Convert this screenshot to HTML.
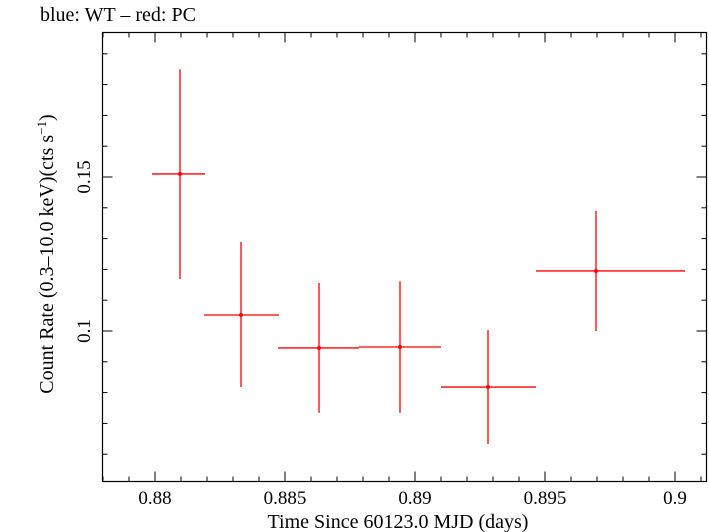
<!DOCTYPE html>
<html><head><meta charset="utf-8"><style>
body{margin:0;background:#fff}
svg{display:block;font-family:"Liberation Serif",serif}
</style></head><body>
<svg id="c" width="709" height="532">
<text x="40" y="21" font-size="20">blue: WT – red: PC</text>
<rect x="102.5" y="32.5" width="604" height="449" fill="none" stroke="#000" stroke-width="1.2"/>
<g id="ticks"></g>
<g id="marks"></g>
<text x="398" y="528" font-size="20" text-anchor="middle">Time Since 60123.0 MJD (days)</text>
<text transform="translate(53,254) rotate(-90)" font-size="20" text-anchor="middle">Count Rate (0.3–10.0 keV)(cts s<tspan dy="-7" font-size="13">−1</tspan><tspan dy="7">)</tspan></text>
</svg>
<script>
const xCenters=[0.880962,0.883308,0.886308,0.889423,0.892808,0.896962];
const xLow=[0.879885,0.881885,0.884731,0.887846,0.891000,0.894654];
const xHigh=[0.881923,0.884769,0.887846,0.891000,0.894654,0.900385];
const rates=[0.1510,0.1052,0.0945,0.0948,0.0818,0.1195];
const rateHigh=[0.1850,0.1289,0.1156,0.1162,0.1003,0.1390];
const rateLow=[0.1169,0.0818,0.0734,0.0734,0.0633,0.1000];
const xTicks=[0.88,0.885,0.89,0.895,0.9];
const xTickLabels=["0.88","0.885","0.89","0.895","0.9"];
const yTicks=[0.1,0.15];
const yTickLabels=["0.1","0.15"];
const NS="http://www.w3.org/2000/svg";
const L=102.5,R=706.5,T=32.5,B=481.5;
function xs(v){return 155+(v-0.88)*26000;}
function ys(v){return 331-(v-0.1)*3080;}
function mk(tag,attrs,parent){const e=document.createElementNS(NS,tag);for(const k in attrs)e.setAttribute(k,attrs[k]);parent.appendChild(e);return e;}
const tg=document.getElementById('ticks'),mg=document.getElementById('marks');
for(let v=0.878;v<=0.9012;v+=0.001){const x=xs(v);if(x<L||x>R)continue;const major=Math.abs(Math.round(v*200)-v*200)<1e-6;const len=major?10:5;
const a=mk('line',{x1:x,x2:x,y1:B,y2:B-len,stroke:'#000'},tg);


const b=mk('line',{x1:x,x2:x,y1:T,y2:T+len,stroke:'#000'},tg);

}
xTicks.forEach((v,i)=>{const t=mk('text',{x:xs(v),y:504,'font-size':19,'text-anchor':'middle'},tg);t.textContent=xTickLabels[i];

});
for(let v=0.05;v<=0.2;v+=0.01){const y=ys(v);if(y<T||y>B)continue;const major=Math.abs(Math.round(v*20)-v*20)<1e-6;const len=major?10:5;
const a=mk('line',{x1:L,x2:L+len,y1:y,y2:y,stroke:'#000'},tg);


const b=mk('line',{x1:R,x2:R-len,y1:y,y2:y,stroke:'#000'},tg);

}
yTicks.forEach((v,i)=>{const t=mk('text',{transform:`translate(90,${ys(v)}) rotate(-90)`,'font-size':19,'text-anchor':'middle'},tg);t.textContent=yTickLabels[i];

});
rates.forEach((r,i)=>{const g=mk('g',{},mg);


mk('line',{x1:xs(xLow[i]),x2:xs(xHigh[i]),y1:ys(r),y2:ys(r),stroke:'#f00','stroke-width':1.3},g);
mk('line',{x1:xs(xCenters[i]),x2:xs(xCenters[i]),y1:ys(rateLow[i]),y2:ys(rateHigh[i]),stroke:'#f00','stroke-width':1.3},g);
mk('circle',{cx:xs(xCenters[i]),cy:ys(r),r:2,fill:'#f00'},g);});
</script>
</body></html>
